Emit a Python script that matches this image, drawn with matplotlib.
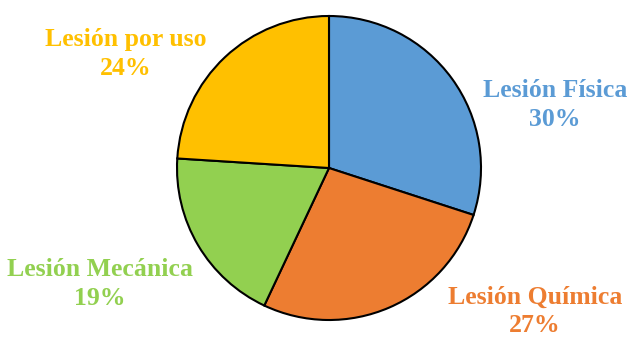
import matplotlib
matplotlib.use("Agg")
import matplotlib.pyplot as plt

# datos del grafico
categorias = ["Lesión Física", "Lesión Química", "Lesión Mecánica", "Lesión por uso"]
porcentajes = [30, 27, 19, 24]
colores = ["#5B9BD5", "#ED7D31", "#92D050", "#FFC000"]

# posiciones de las etiquetas (pixeles)
pos_etiquetas = [(555, 105), (535, 311), (100, 284), (126, 54)]

fig = plt.figure(figsize=(6.3, 3.38), dpi=100)
ax = fig.add_axes([0, 0, 1, 1])

# eje y invertido: startangle -90 = arriba, counterclock=True = sentido horario en pantalla
ax.pie(porcentajes, colors=colores, startangle=-90, counterclock=True,
       center=(329, 168), radius=152, frame=True,
       wedgeprops=dict(edgecolor="black", linewidth=1.5))
ax.set_xlim(0, 630)
ax.set_ylim(338, 0)
ax.set_aspect("equal")
ax.axis("off")

for cat, pct, col, (x, y) in zip(categorias, porcentajes, colores, pos_etiquetas):
    ax.text(x, y, f"{cat}\n{pct}%", color=col, ha="center", va="center",
            fontsize=18.5, fontweight="bold", family="Liberation Serif",
            linespacing=1.3)

fig.savefig("out.png", dpi=100)
